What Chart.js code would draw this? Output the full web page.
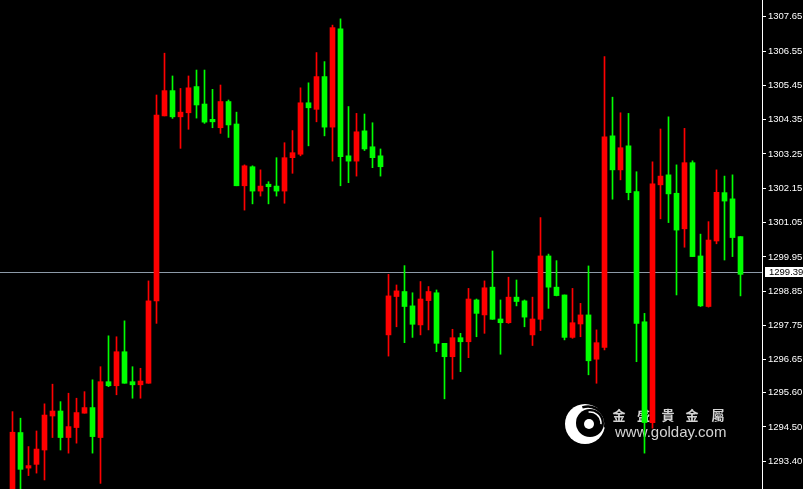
<!DOCTYPE html>
<html>
<head>
<meta charset="utf-8">
<script src="https://cdn.jsdelivr.net/npm/chart.js@4.4.1/dist/chart.umd.min.js"></script>
<style>
  html, body { margin: 0; padding: 0; background: #000; }
  #wrap { width: 803px; height: 489px; position: relative; }
</style>
</head>
<body>
<div id="wrap"><canvas id="grafico"></canvas></div>
<script>
// OHLC (una vela por posición)
const openP = [
  1292.25, 1294.32, 1293.18, 1293.30, 1293.76, 1294.85, 1295.01, 1294.16, 1294.48, 1294.94,
  1295.12, 1294.16, 1295.95, 1295.82, 1296.91, 1295.95, 1295.85, 1295.90, 1298.54, 1304.47,
  1305.28, 1304.44, 1304.57, 1305.41, 1304.85, 1304.36, 1304.09, 1304.93, 1304.21, 1302.23,
  1302.84, 1302.06, 1302.28, 1302.22, 1302.06, 1303.13, 1303.24, 1304.89, 1304.68, 1305.73,
  1304.11, 1307.26, 1303.19, 1303.02, 1303.99, 1303.48, 1303.19, 1297.45, 1298.68, 1298.84,
  1298.38, 1297.77, 1298.55, 1298.80, 1297.18, 1296.75, 1297.36, 1297.23, 1298.57, 1298.09,
  1298.98, 1297.96, 1297.84, 1298.66, 1298.54, 1297.45, 1297.95, 1299.98, 1298.98, 1298.73,
  1297.37, 1297.80, 1298.09, 1296.67, 1297.05, 1303.83, 1302.74, 1303.51, 1302.04, 1297.87,
  1294.64, 1302.26, 1302.58, 1301.99, 1300.85, 1302.97, 1299.98, 1298.36, 1300.46, 1302.01,
  1301.81, 1300.60
];
const highP = [
  1294.99, 1294.78, 1293.87, 1294.37, 1295.24, 1295.87, 1295.31, 1295.58, 1295.42, 1295.63,
  1296.01, 1296.43, 1297.42, 1297.39, 1297.90, 1296.43, 1296.38, 1299.18, 1305.14, 1306.48,
  1305.75, 1305.35, 1305.75, 1305.94, 1305.94, 1305.32, 1305.46, 1304.98, 1304.59, 1302.90,
  1302.87, 1302.74, 1302.36, 1303.13, 1303.61, 1304.00, 1305.37, 1305.53, 1306.50, 1306.21,
  1307.38, 1307.58, 1304.77, 1304.55, 1304.53, 1304.25, 1303.41, 1299.39, 1299.05, 1299.67,
  1298.80, 1299.16, 1299.00, 1298.89, 1297.18, 1297.63, 1297.50, 1298.94, 1298.60, 1299.18,
  1300.14, 1298.57, 1299.30, 1299.21, 1298.57, 1298.66, 1301.21, 1300.04, 1299.83, 1298.73,
  1298.94, 1298.46, 1299.66, 1297.61, 1306.37, 1305.07, 1304.57, 1304.55, 1302.68, 1298.14,
  1303.00, 1304.05, 1304.44, 1302.90, 1304.07, 1303.03, 1300.68, 1301.08, 1302.74, 1302.54,
  1302.58, 1300.60
];
const lowP = [
  1292.00, 1292.16, 1292.94, 1293.02, 1292.80, 1294.16, 1293.76, 1293.66, 1293.98, 1294.94,
  1293.66, 1292.69, 1295.79, 1295.53, 1295.90, 1295.42, 1295.42, 1295.90, 1297.82, 1304.47,
  1304.39, 1303.43, 1304.04, 1304.40, 1304.23, 1304.09, 1303.91, 1303.78, 1302.23, 1301.45,
  1301.65, 1301.90, 1301.65, 1301.90, 1301.67, 1302.63, 1303.19, 1303.51, 1304.28, 1303.83,
  1303.02, 1302.23, 1302.33, 1302.54, 1303.36, 1302.81, 1302.54, 1296.77, 1297.71, 1297.20,
  1297.37, 1297.45, 1297.61, 1296.91, 1295.40, 1296.03, 1296.27, 1296.72, 1297.39, 1297.50,
  1297.95, 1296.83, 1297.82, 1298.38, 1297.71, 1297.11, 1297.59, 1298.30, 1298.70, 1297.29,
  1297.34, 1297.39, 1296.17, 1295.90, 1296.97, 1301.80, 1302.42, 1301.78, 1296.59, 1293.66,
  1294.46, 1301.17, 1301.05, 1298.73, 1300.26, 1299.96, 1298.36, 1298.34, 1300.37, 1299.85,
  1299.96, 1298.70
];
const closeP = [
  1294.33, 1293.14, 1293.26, 1293.79, 1294.88, 1295.01, 1294.16, 1294.51, 1294.96, 1295.12,
  1294.19, 1295.95, 1295.82, 1296.91, 1295.90, 1295.85, 1295.97, 1298.54, 1304.50, 1305.28,
  1304.44, 1304.59, 1305.37, 1304.82, 1304.27, 1304.28, 1304.93, 1304.18, 1302.23, 1302.87,
  1302.06, 1302.22, 1302.20, 1302.06, 1303.13, 1303.29, 1304.89, 1304.73, 1305.73, 1304.11,
  1307.30, 1303.16, 1303.02, 1303.96, 1303.41, 1303.13, 1302.84, 1298.70, 1298.86, 1298.36,
  1297.79, 1298.60, 1298.84, 1297.18, 1296.75, 1297.36, 1297.23, 1298.60, 1298.14, 1298.96,
  1297.95, 1297.84, 1298.66, 1298.52, 1298.02, 1297.96, 1299.98, 1298.98, 1298.71, 1297.37,
  1297.84, 1298.09, 1296.62, 1297.20, 1303.80, 1302.74, 1303.45, 1302.01, 1297.82, 1294.64,
  1302.29, 1302.54, 1301.97, 1300.81, 1302.97, 1299.96, 1298.38, 1300.49, 1302.02, 1301.74,
  1300.57, 1299.39
];
const tickVals = [
  1307.65, 1306.55, 1305.45, 1304.35, 1303.25, 1302.15, 1301.05,
  1299.95, 1298.85, 1297.75, 1296.65, 1295.60, 1294.50, 1293.40
];
const lastPrice = 1299.39;
const marcaTitulo = ['金', '盛', '貴', '金', '屬'];
const marcaWeb = 'www.golday.com';

const idx = openP.map((_, i) => i);
const colores = idx.map(i => closeP[i] >= openP[i] ? '#ff0000' : '#00ff00');

// línea del precio actual + logo de fondo (detrás de las velas)
const fondo = {
  id: 'fondo',
  beforeDatasetsDraw(chart) {
    const ctx = chart.ctx;
    const area = chart.chartArea;
    const y = Math.round(chart.scales.y.getPixelForValue(lastPrice)) - 1.5;
    ctx.save();
    ctx.strokeStyle = '#8c9aa8';
    ctx.lineWidth = 1;
    ctx.beginPath();
    ctx.moveTo(area.left, y);
    ctx.lineTo(area.right, y);
    ctx.stroke();

    // logo
    ctx.fillStyle = '#ffffff';
    ctx.beginPath(); ctx.arc(585, 424, 20, 0, Math.PI * 2); ctx.fill();
    ctx.fillStyle = '#000000';
    ctx.beginPath(); ctx.arc(590, 423, 14, 0, Math.PI * 2); ctx.fill();
    ctx.strokeStyle = '#000000';
    ctx.lineWidth = 2.5;
    ctx.beginPath(); ctx.arc(588, 424, 17.5, -1.9, 0.2); ctx.stroke();
    ctx.strokeStyle = '#ffffff';
    ctx.lineWidth = 1.5;
    ctx.beginPath(); ctx.arc(590, 423, 11, -1.7, 0.1); ctx.stroke();
    ctx.fillStyle = '#ffffff';
    ctx.beginPath(); ctx.arc(589, 424, 5, 0, Math.PI * 2); ctx.fill();

    ctx.fillStyle = '#d4d4d4';
    ctx.textBaseline = 'middle';
    ctx.textAlign = 'center';
    ctx.font = 'bold 13px "Noto Sans CJK TC"';
    const cx = [619, 643.5, 668, 692, 718];
    marcaTitulo.forEach((ch, k) => ctx.fillText(ch, cx[k], 415));
    ctx.textAlign = 'left';
    ctx.font = '15px "Liberation Sans"';
    ctx.fillText(marcaWeb, 615, 433);
    ctx.restore();
  },
  afterDraw(chart) {
    const ctx = chart.ctx;
    const y = Math.round(chart.scales.y.getPixelForValue(lastPrice)) - 2;
    ctx.save();
    ctx.fillStyle = '#ffffff';
    ctx.fillRect(765, y - 5, 38, 10);
    ctx.fillStyle = '#000000';
    ctx.font = '9.5px "Liberation Sans"';
    ctx.textBaseline = 'middle';
    ctx.fillText(lastPrice.toFixed(2), 769, y + 0.5);
    ctx.restore();
  }
};

new Chart(document.getElementById('grafico'), {
  type: 'bar',
  data: {
    datasets: [
      {
        label: 'mecha',
        data: idx.map(i => ({ x: i, y: [lowP[i], highP[i]] })),
        backgroundColor: colores,
        barThickness: 1,
        grouped: false,
        order: 2
      },
      {
        label: 'cuerpo',
        data: idx.map(i => ({ x: i, y: [Math.min(openP[i], closeP[i]), Math.max(openP[i], closeP[i])] })),
        backgroundColor: colores,
        barThickness: 5,
        minBarLength: 1,
        grouped: false,
        order: 1
      }
    ]
  },
  options: {
    responsive: true,
    maintainAspectRatio: false,
    animation: false,
    layout: { padding: 0 },
    plugins: { legend: { display: false }, tooltip: { enabled: false } },
    scales: {
      x: {
        type: 'linear',
        display: false,
        offset: false,
        min: -1.5625,
        max: 93.6875
      },
      y: {
        position: 'right',
        min: 1292.51,
        max: 1308.185,
        afterBuildTicks: s => { s.ticks = tickVals.map(v => ({ value: v })); },
        afterFit: s => { s.width = 41; s.paddingTop = 0; s.paddingBottom = 0; },
        grid: { drawOnChartArea: false, drawTicks: true, tickLength: 4, color: '#ffffff' },
        border: { display: true, color: '#ffffff', width: 1 },
        ticks: {
          color: '#ffffff',
          padding: 2,
          autoSkip: false,
          font: { family: 'Liberation Sans', size: 9.5 },
          callback: v => v.toFixed(2)
        }
      }
    }
  },
  plugins: [fondo]
});
</script>
</body>
</html>
